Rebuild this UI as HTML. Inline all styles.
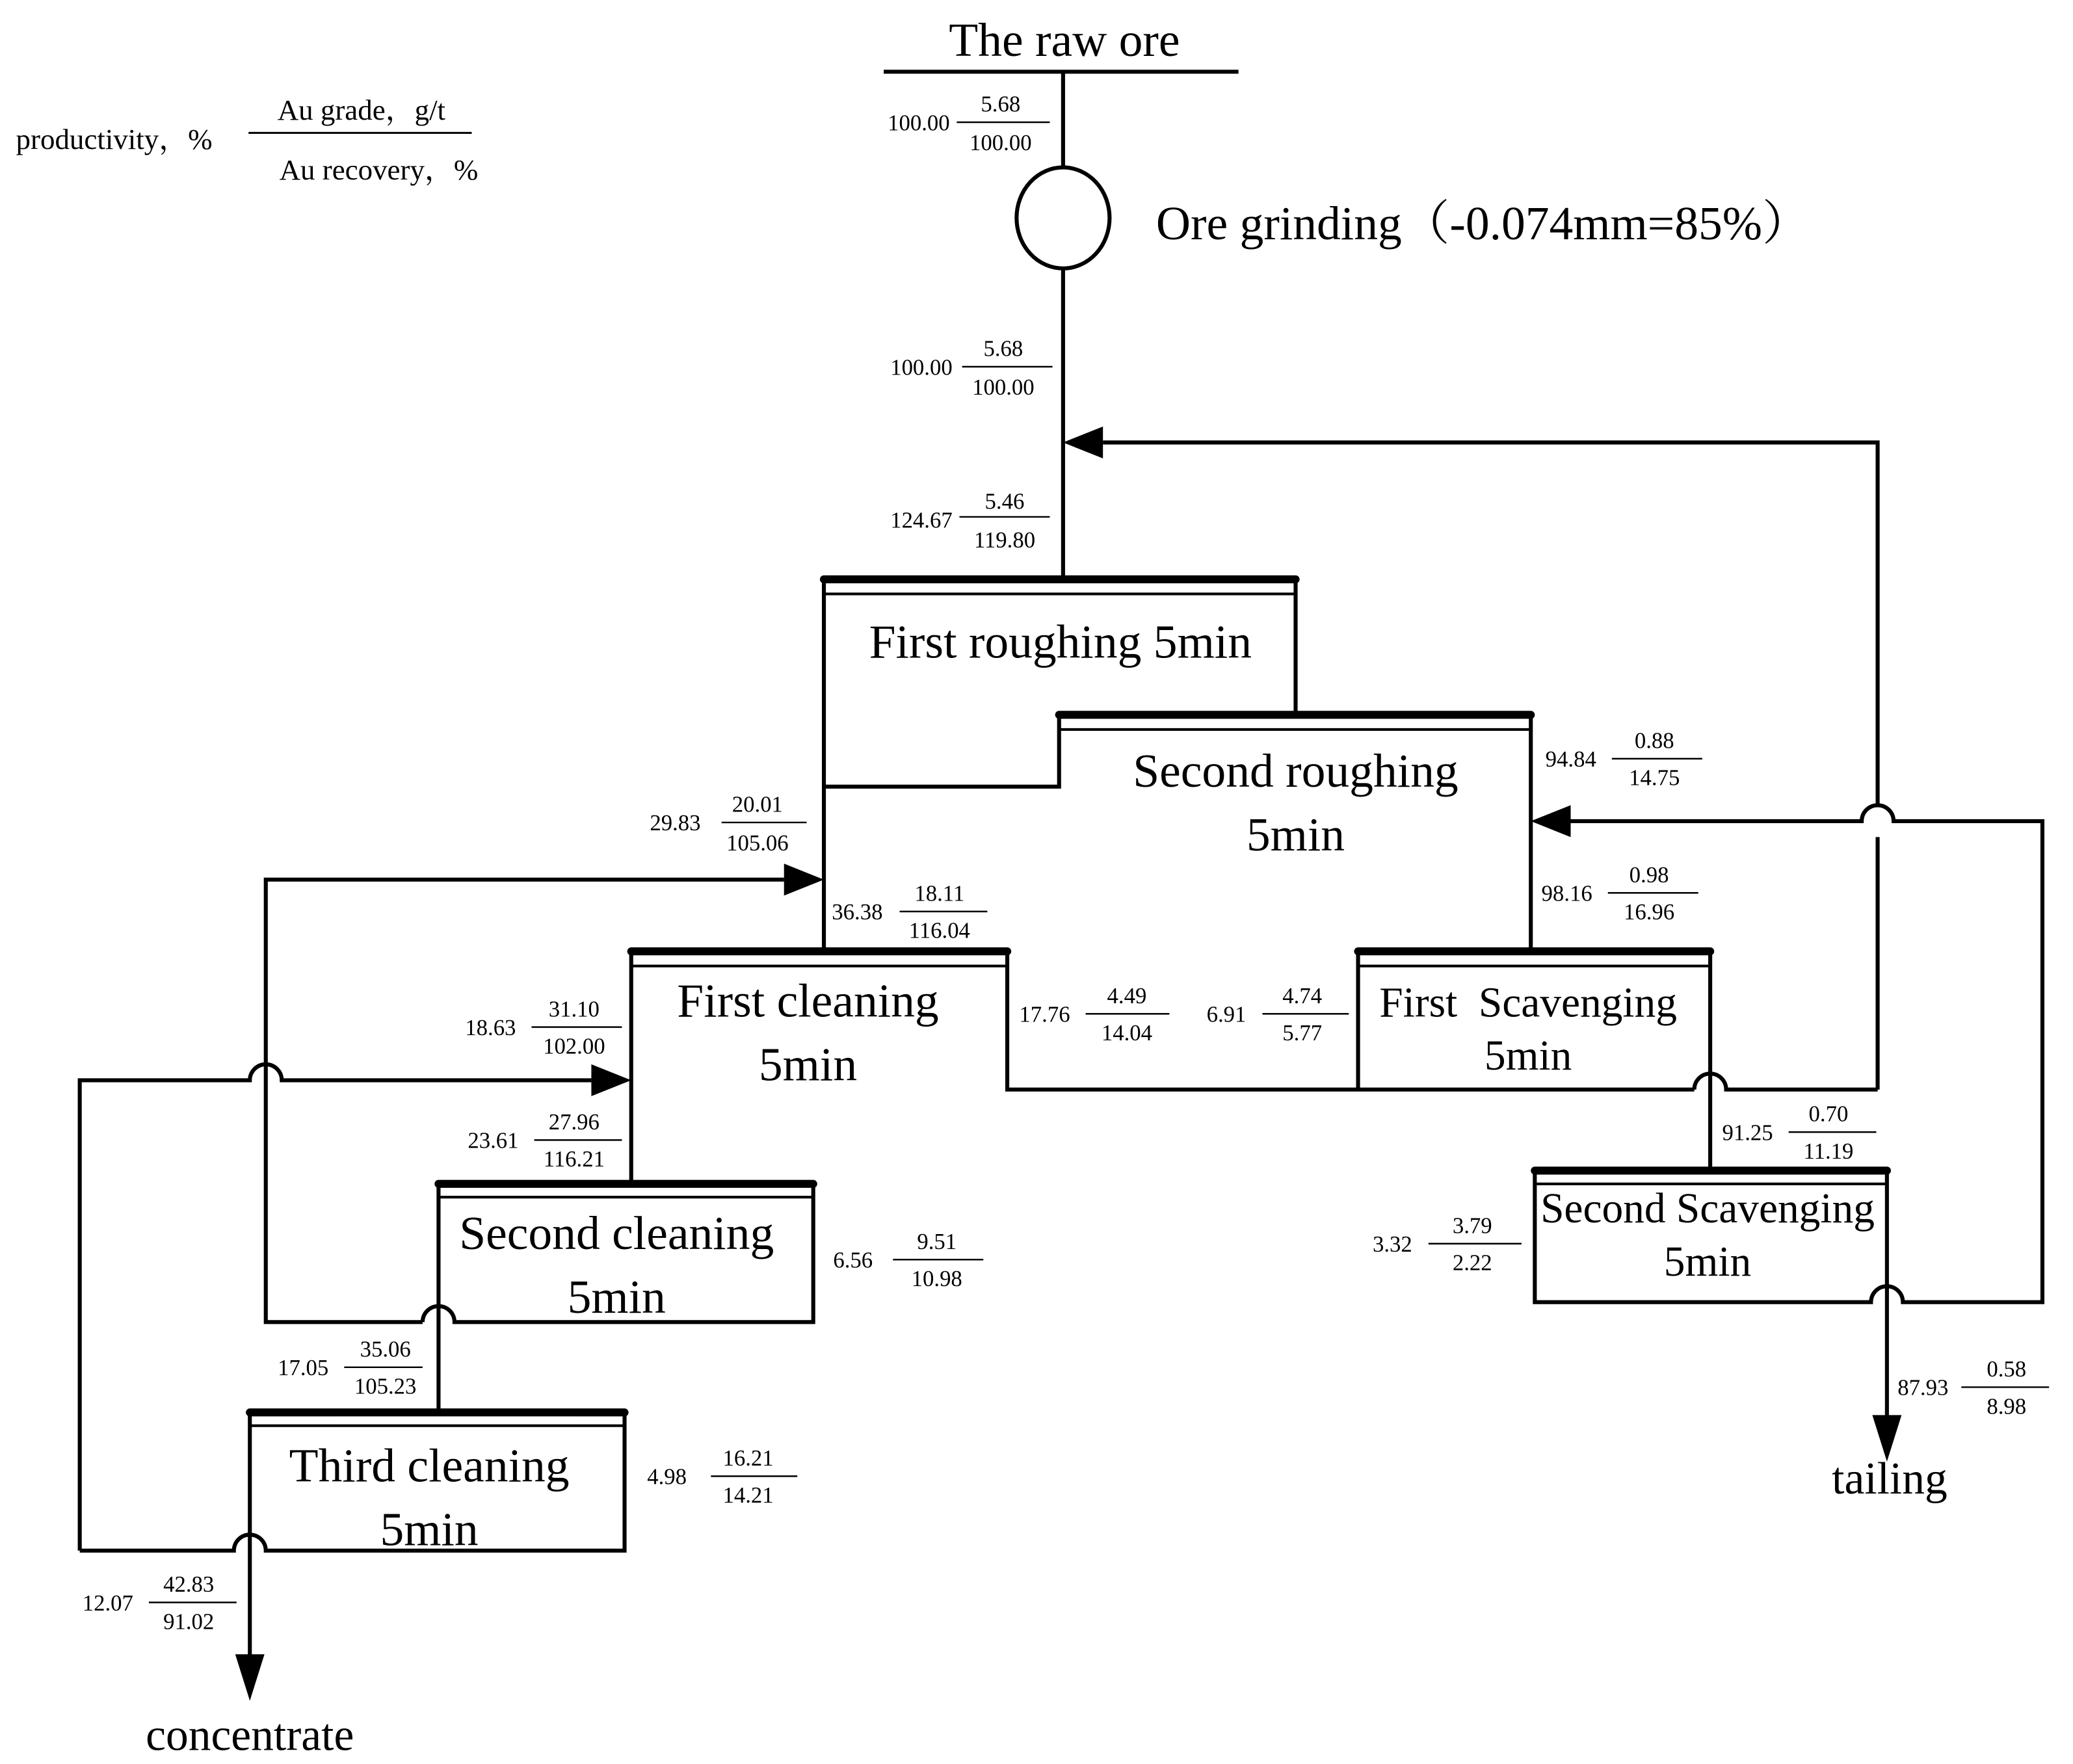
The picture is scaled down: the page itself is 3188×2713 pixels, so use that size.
<!DOCTYPE html>
<html><head><meta charset="utf-8"><style>
html,body{margin:0;padding:0;background:#fff;}
svg{display:block;}
text{font-family:"Liberation Serif","Noto Serif CJK SC",serif;fill:#000;}
.s{font-size:17px;}
.b{font-size:36px;}
</style></head><body>
<svg width="3188" height="2713" viewBox="0 0 1560 1327.6" xmlns="http://www.w3.org/2000/svg">
<rect width="1560" height="1327.6" fill="#fff"/>
<g stroke="#000" stroke-width="3" fill="none" stroke-linecap="butt">
<!-- top -->
<line x1="665" y1="54" x2="932" y2="54"/>
<line x1="800" y1="54" x2="800" y2="126"/>
<ellipse cx="800" cy="164" rx="35" ry="38"/>
<line x1="800" y1="202" x2="800" y2="436"/>
<!-- recycle to top -->
<polyline points="830,333 1413,333 1413,606"/>
<polyline points="1413,630 1413,820"/>
<!-- first roughing -->
<polyline points="620,715 620,436"/>
<polyline points="975,436 975,538"/>
<line x1="620" y1="447" x2="975" y2="447" stroke-width="2"/>
<!-- second roughing -->
<polyline points="620,592 797,592 797,538"/>
<polyline points="1152,538 1152,716"/>
<line x1="797" y1="549" x2="1152" y2="549" stroke-width="2"/>
<path d="M1182,618 L1401,618 A12 12 0 0 1 1425,618 L1537,618 L1537,980 L1432,980 A12 12 0 0 0 1408,980 L1155,980 L1155,881"/>
<!-- first cleaning -->
<line x1="475" y1="727" x2="758" y2="727" stroke-width="2"/>
<polyline points="475,716 475,891"/>
<polyline points="758,716 758,820 1275,820"/>
<path d="M1275,820 A12 12 0 0 1 1299,820 L1413,820"/>
<polyline points="1022,716 1022,820"/>
<polyline points="1287,716 1287,881"/>
<line x1="1022" y1="727" x2="1287" y2="727" stroke-width="2"/>
<!-- second scavenging -->
<line x1="1155" y1="891" x2="1420" y2="891" stroke-width="2"/>
<polyline points="1420,881 1420,1068"/>
<!-- left loops -->
<polyline points="590,662 200,662 200,995 318,995"/>
<path d="M318,995 A12 12 0 0 1 342,995 L612,995 L612,891"/>
<path d="M60,1167 L60,813 L188,813 A12 12 0 0 1 212,813 L445,813"/>
<line x1="330" y1="891" x2="330" y2="1063"/>
<line x1="330" y1="901" x2="612" y2="901" stroke-width="2"/>
<!-- third cleaning -->
<path d="M60,1167 L176,1167 A12 12 0 0 1 200,1167 L470,1167 L470,1063"/>
<line x1="188" y1="1063" x2="188" y2="1248"/>
<line x1="188" y1="1073" x2="470" y2="1073" stroke-width="2"/>
</g>
<!-- thick bars -->
<g stroke="#000" stroke-width="6" stroke-linecap="round">
<line x1="620" y1="436" x2="975" y2="436"/>
<line x1="797" y1="538" x2="1152" y2="538"/>
<line x1="475" y1="716" x2="758" y2="716"/>
<line x1="1022" y1="716" x2="1287" y2="716"/>
<line x1="1155" y1="881" x2="1420" y2="881"/>
<line x1="330" y1="891" x2="612" y2="891"/>
<line x1="188" y1="1063" x2="470" y2="1063"/>
</g>
<!-- arrowheads -->
<g fill="#000">
<polygon points="800,333 830,321 830,345"/>
<polygon points="1152,618 1182,606 1182,630"/>
<polygon points="620,662 590,650 590,674"/>
<polygon points="475,813 445,801 445,825"/>
<polygon points="188,1280 177,1245 199,1245"/>
<polygon points="1420,1100 1409,1065 1431,1065"/>
</g>
<!-- big text -->
<text class="b" x="801" y="42" text-anchor="middle">The raw ore</text>
<text class="b" x="870" y="180">Ore grinding（-0.074mm=85%）</text>
<text class="b" x="798" y="495" text-anchor="middle">First roughing 5min</text>
<text class="b" x="975" y="592" text-anchor="middle">Second roughing</text>
<text class="b" x="975" y="640" text-anchor="middle">5min</text>
<text class="b" x="608" y="765" text-anchor="middle">First cleaning</text>
<text class="b" x="608" y="813" text-anchor="middle">5min</text>
<text class="b" x="464" y="940" text-anchor="middle">Second cleaning</text>
<text class="b" x="464" y="988" text-anchor="middle">5min</text>
<text class="b" x="323" y="1115" text-anchor="middle">Third cleaning</text>
<text class="b" x="323" y="1163" text-anchor="middle">5min</text>
<text x="1150" y="765" text-anchor="middle" style="font-size:32px" xml:space="preserve">First  Scavenging</text>
<text x="1150" y="805" text-anchor="middle" style="font-size:32px">5min</text>
<text x="1285" y="920" text-anchor="middle" style="font-size:32px">Second Scavenging</text>
<text x="1285" y="960" text-anchor="middle" style="font-size:32px">5min</text>
<text x="188" y="1317" text-anchor="middle" style="font-size:34px">concentrate</text>
<text x="1422" y="1124" text-anchor="middle" style="font-size:34px">tailing</text>
<!-- legend -->
<text x="12" y="112" style="font-size:22px">productivity，%</text>
<line x1="187" y1="100" x2="355" y2="100" stroke="#000" stroke-width="1.5"/>
<text x="272" y="90" text-anchor="middle" style="font-size:22px">Au grade，g/t</text>
<text x="285" y="135" text-anchor="middle" style="font-size:22px">Au recovery，%</text>
<!-- fraction labels -->
<g class="s">
<g stroke="#000" stroke-width="1.2">
<line x1="720" y1="92" x2="790" y2="92"/>
<line x1="724" y1="276" x2="792" y2="276"/>
<line x1="722" y1="389" x2="790" y2="389"/>
<line x1="543" y1="619" x2="607" y2="619"/>
<line x1="677" y1="686" x2="743" y2="686"/>
<line x1="400" y1="773" x2="468" y2="773"/>
<line x1="402" y1="858" x2="468" y2="858"/>
<line x1="817" y1="763" x2="880" y2="763"/>
<line x1="950" y1="763" x2="1015" y2="763"/>
<line x1="1213" y1="571" x2="1281" y2="571"/>
<line x1="1210" y1="672" x2="1278" y2="672"/>
<line x1="1346" y1="852" x2="1412" y2="852"/>
<line x1="1075" y1="936" x2="1145" y2="936"/>
<line x1="672" y1="948" x2="740" y2="948"/>
<line x1="259" y1="1029" x2="318" y2="1029"/>
<line x1="535" y1="1111" x2="600" y2="1111"/>
<line x1="112" y1="1206" x2="178" y2="1206"/>
<line x1="1476" y1="1044" x2="1542" y2="1044"/>
</g>
<text x="668" y="98">100.00</text><text x="753" y="84" text-anchor="middle">5.68</text><text x="753" y="113" text-anchor="middle">100.00</text>
<text x="670" y="282">100.00</text><text x="755" y="268" text-anchor="middle">5.68</text><text x="755" y="297" text-anchor="middle">100.00</text>
<text x="670" y="397">124.67</text><text x="756" y="383" text-anchor="middle">5.46</text><text x="756" y="412" text-anchor="middle">119.80</text>
<text x="489" y="625">29.83</text><text x="570" y="611" text-anchor="middle">20.01</text><text x="570" y="640" text-anchor="middle">105.06</text>
<text x="626" y="692">36.38</text><text x="707" y="678" text-anchor="middle">18.11</text><text x="707" y="706" text-anchor="middle">116.04</text>
<text x="350" y="779">18.63</text><text x="432" y="765" text-anchor="middle">31.10</text><text x="432" y="793" text-anchor="middle">102.00</text>
<text x="352" y="864">23.61</text><text x="432" y="850" text-anchor="middle">27.96</text><text x="432" y="878" text-anchor="middle">116.21</text>
<text x="767" y="769">17.76</text><text x="848" y="755" text-anchor="middle">4.49</text><text x="848" y="783" text-anchor="middle">14.04</text>
<text x="908" y="769">6.91</text><text x="980" y="755" text-anchor="middle">4.74</text><text x="980" y="783" text-anchor="middle">5.77</text>
<text x="1163" y="577">94.84</text><text x="1245" y="563" text-anchor="middle">0.88</text><text x="1245" y="591" text-anchor="middle">14.75</text>
<text x="1160" y="678">98.16</text><text x="1241" y="664" text-anchor="middle">0.98</text><text x="1241" y="692" text-anchor="middle">16.96</text>
<text x="1296" y="858">91.25</text><text x="1376" y="844" text-anchor="middle">0.70</text><text x="1376" y="872" text-anchor="middle">11.19</text>
<text x="1033" y="942">3.32</text><text x="1108" y="928" text-anchor="middle">3.79</text><text x="1108" y="956" text-anchor="middle">2.22</text>
<text x="627" y="954">6.56</text><text x="705" y="940" text-anchor="middle">9.51</text><text x="705" y="968" text-anchor="middle">10.98</text>
<text x="209" y="1035">17.05</text><text x="290" y="1021" text-anchor="middle">35.06</text><text x="290" y="1049" text-anchor="middle">105.23</text>
<text x="487" y="1117">4.98</text><text x="563" y="1103" text-anchor="middle">16.21</text><text x="563" y="1131" text-anchor="middle">14.21</text>
<text x="62" y="1212">12.07</text><text x="142" y="1198" text-anchor="middle">42.83</text><text x="142" y="1226" text-anchor="middle">91.02</text>
<text x="1428" y="1050">87.93</text><text x="1510" y="1036" text-anchor="middle">0.58</text><text x="1510" y="1064" text-anchor="middle">8.98</text>
</g>
</svg>
</body></html>
